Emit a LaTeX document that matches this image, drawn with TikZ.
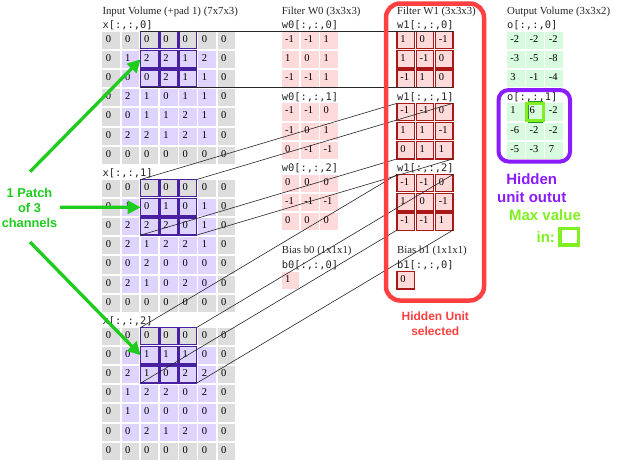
\documentclass[tikz,border=0pt]{standalone}
\usepackage{fontspec}
\setmainfont{Liberation Serif}
\setsansfont{Liberation Sans}
\newfontfamily\monof{DejaVu Sans Mono}
\usetikzlibrary{arrows.meta}
\definecolor{padgrey}{RGB}{221,221,221}
\definecolor{lav}{RGB}{222,212,255}
\definecolor{patchc}{RGB}{72,32,160}
\definecolor{wpink}{RGB}{255,218,218}
\definecolor{wred}{RGB}{170,24,24}
\definecolor{ogreen}{RGB}{216,250,222}
\definecolor{redf}{RGB}{255,64,64}
\definecolor{purf}{RGB}{138,28,255}
\definecolor{limeg}{RGB}{128,240,32}
\definecolor{pgreen}{RGB}{30,204,30}
\definecolor{cgreen}{RGB}{40,150,40}
\newcommand\xgrid[3]{%
  \foreach \row [count=\r from 0] in {#3} {
    \foreach \v [count=\c from 0] in \row {
      \pgfmathtruncatemacro\pad{(\r==0)||(\r==6)||(\c==0)||(\c==6)}
      \pgfmathtruncatemacro\inb{(\r<3)&&(\c>1)&&(\c<5)}
      \ifnum\pad=1 \def\fc{padgrey}\else\def\fc{lav}\fi
      \ifnum\inb=1 \def\dc{patchc}\else\def\dc{none}\fi
      \node[cell, fill=\fc, draw=\dc, line width=1.3pt] (#1-\r-\c) at ({102.3+\c*19.2},{#2+\r*19.2}) {};
      \node[num] (#1t-\r-\c) at ({105.6+\c*19.2},{#2+\r*19.2+10.6}) {\v};
    }
  }}
\newcommand\wgrid[5]{%
  \foreach \row [count=\r from 0] in {#5} {
    \foreach \v [count=\c from 0] in \row {
      \node[cell,#4] (#1-\r-\c) at ({#2+\c*19.2},{#3+\r*19.2}) {};
      \node[num] (#1t-\r-\c) at ({#2+3.2+\c*19.2},{#3+\r*19.2+10.6}) {\v};
    }
  }}
\begin{document}
\begin{tikzpicture}[x=1pt,y=-1pt,
  cell/.style={minimum width=17.6pt, minimum height=17.2pt, inner sep=0pt, outer sep=0pt, anchor=north west},
  num/.style={anchor=base west, inner sep=0pt, font=\fontsize{10.5}{12}\selectfont},
  ttl/.style={anchor=base west, inner sep=0pt, font=\fontsize{10.8}{13}\selectfont, text=black!85},
  mono/.style={anchor=base west, inner sep=0pt, font=\monof\fontsize{10.4}{12}\selectfont, text=black!85},
  w0cell/.style={fill=wpink},
  w1cell/.style={fill=wpink, draw=wred, line width=1.2pt},
  ocell/.style={fill=ogreen},
  conn/.style={draw=black!85, line width=0.6pt},
  arr/.style={draw=pgreen, line width=3.3pt, -{Triangle[length=13pt,width=13pt]}},
  annot/.style={inner sep=0pt, align=center, font=\sffamily\bfseries}
]
\useasboundingbox[fill=white] (0,0) rectangle (617,463);

% ---- input volume ----
\node[ttl] (tin) at (102.3,14.5) {Input Volume (+pad 1) (7x7x3)};
\node[mono] (lx0) at (102.3,28.3) {x[:,:,0]};
\node[mono] (lx1) at (102.3,176.3) {x[:,:,1]};
\node[mono] (lx2) at (102.3,324.3) {x[:,:,2]};
\xgrid{x0}{31.5}{{0,0,0,0,0,0,0},{0,1,2,2,1,2,0},{0,0,0,2,1,1,0},{0,2,1,0,1,1,0},{0,0,1,1,2,1,0},{0,2,2,1,2,1,0},{0,0,0,0,0,0,0}}
\xgrid{x1}{179.5}{{0,0,0,0,0,0,0},{0,1,0,1,0,1,0},{0,2,2,2,0,1,0},{0,2,1,2,2,1,0},{0,0,2,0,0,0,0},{0,2,1,0,2,0,0},{0,0,0,0,0,0,0}}
\xgrid{x2}{327.5}{{0,0,0,0,0,0,0},{0,0,1,1,1,0,0},{0,2,1,0,2,2,0},{0,1,2,2,0,2,0},{0,1,0,0,0,0,0},{0,0,2,1,2,0,0},{0,0,0,0,0,0,0}}

% ---- filter W0 ----
\node[ttl] (tw0) at (281.7,14.5) {Filter W0 (3x3x3)};
\node[mono] (lw00) at (281.7,28.3) {w0[:,:,0]};
\node[mono] (lw01) at (281.7,100) {w0[:,:,1]};
\node[mono] (lw02) at (281.7,171.2) {w0[:,:,2]};
\wgrid{wa0}{281.7}{31.5}{w0cell}{{-1,-1,1},{1,0,1},{-1,-1,1}}
\wgrid{wa1}{281.7}{103.3}{w0cell}{{-1,-1,0},{-1,0,1},{0,-1,-1}}
\wgrid{wa2}{281.7}{174.5}{w0cell}{{0,0,0},{-1,-1,-1},{0,0,0}}
\node[ttl] (tb0) at (281.7,253.5) {Bias b0 (1x1x1)};
\node[mono] (lb0) at (281.7,268.5) {b0[:,:,0]};
\wgrid{ba}{281.7}{271.7}{w0cell}{{1}}

% ---- filter W1 ----
\node[ttl] (tw1) at (397,14.5) {Filter W1 (3x3x3)};
\node[mono] (lw10) at (397,28.3) {w1[:,:,0]};
\node[mono] (lw11) at (397,100) {w1[:,:,1]};
\node[mono] (lw12) at (397,171.2) {w1[:,:,2]};
\wgrid{wb0}{397}{31.5}{w1cell}{{1,0,-1},{1,-1,0},{-1,1,0}}
\wgrid{wb1}{397}{103.3}{w1cell}{{-1,-1,0},{1,1,-1},{0,1,1}}
\wgrid{wb2}{397}{174.5}{w1cell}{{-1,-1,0},{1,0,-1},{-1,-1,1}}
\node[ttl] (tb1) at (397,253.5) {Bias b1 (1x1x1)};
\node[mono] (lb1) at (397,268.5) {b1[:,:,0]};
\wgrid{bb}{397}{271.7}{w1cell}{{0}}

% ---- output volume ----
\node[ttl] (tout) at (507,14.5) {Output Volume (3x3x2)};
\node[mono] (lo0) at (507,28.3) {o[:,:,0]};
\node[mono] (lo1) at (507,100) {o[:,:,1]};
\wgrid{oa}{507}{31.5}{ocell}{{-2,-2,-2},{-3,-5,-8},{3,-1,-4}}
\wgrid{ob}{507}{103.3}{ocell}{{1,6,-2},{-6,-2,-2},{-5,-3,7}}
\draw[cgreen, line width=0.8pt] ([shift={(1.8,-1.8)}]ob-0-1.north west) rectangle ([shift={(-1.8,1.8)}]ob-0-1.south east);
\draw[limeg, line width=3pt] (ob-0-1.north west) rectangle (ob-0-1.south east);

% ---- connectors ----
\foreach \k in {0,1,2} {
  \draw[conn] (x\k-0-2.north west) -- (wb\k-0-0.north west);
  \draw[conn] (x\k-0-4.north east) -- (wb\k-0-2.north east);
  \draw[conn] (x\k-2-2.south west) -- (wb\k-2-0.south west);
  \draw[conn] (x\k-2-4.south east) -- (wb\k-2-2.south east);
}

% ---- frames ----
\node[draw=redf, line width=4.5pt, rounded corners=14pt, minimum width=98pt, minimum height=297pt, inner sep=0pt] (selframe) at (435,152) {};
\node[draw=purf, line width=4pt, rounded corners=10pt, minimum width=71.5pt, minimum height=71.5pt, inner sep=0pt] (outframe) at (534.3,125.8) {};
\node[draw=limeg, line width=3.5pt, minimum width=18.5pt, minimum height=16.5pt, inner sep=0pt] (maxbox) at (569.3,236.8) {};

% ---- annotations ----
\node[annot, text=redf, font=\sffamily\bfseries\fontsize{12}{14.4}\selectfont] (selt) at (435.3,323.8) {Hidden Unit\\selected};
\node[annot, text=purf, font=\sffamily\bfseries\fontsize{15}{17.4}\selectfont] (hout) at (531.7,188) {Hidden\\unit outut};
\node[annot, text=limeg, font=\sffamily\bfseries\fontsize{15}{18}\selectfont] (maxt) at (545,215) {Max value};
\node[annot, text=limeg, font=\sffamily\bfseries\fontsize{15}{18}\selectfont] (maxin) at (545.8,237.3) {in:};
\node[annot, text=pgreen, font=\sffamily\bfseries\fontsize{12.8}{15}\selectfont] (patcht) at (29.5,208.3) {1 Patch\\of 3\\channels};

% ---- arrows ----
\coordinate (a1) at (30,171.7);
\coordinate (a2) at (60,207.3);
\coordinate (a3) at (30,242);
\draw[arr] (a1) -- (x0-1-2.west);
\draw[arr] (a2) -- (x1-1-2.west);
\draw[arr] (a3) -- (x2-1-2.west);
\end{tikzpicture}
\end{document}
